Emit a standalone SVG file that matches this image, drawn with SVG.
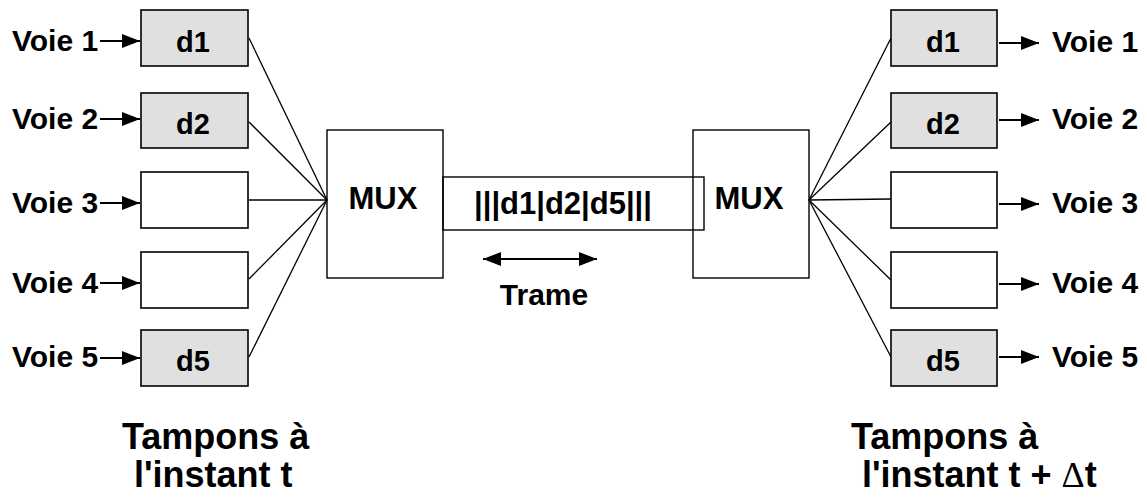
<svg xmlns="http://www.w3.org/2000/svg" width="1147" height="497" viewBox="0 0 1147 497">
<style>
text{font-family:"Liberation Sans",Arial,sans-serif;font-weight:bold;fill:#000}
.voie{font-size:30px}
.d{font-size:29px;text-anchor:middle}
.mux{font-size:31px;text-anchor:middle}
.buf{fill:#e0e0e0;stroke:#000;stroke-width:1.6}
.empty{fill:#fff;stroke:#000;stroke-width:1.6}
.box{fill:none;stroke:#000;stroke-width:1.4}
.ln{stroke:#000;stroke-width:1.3;fill:none}
.ar{stroke:#000;stroke-width:2.2;fill:none}
.big{font-size:36px}
</style>
<defs>
<marker id="ah" markerUnits="userSpaceOnUse" markerWidth="20" markerHeight="16" refX="18" refY="7" orient="auto">
<path d="M0,0 L18,7 L0,14 Z" fill="#000"/>
</marker>
<marker id="ahs" markerUnits="userSpaceOnUse" markerWidth="20" markerHeight="16" refX="0" refY="7" orient="auto">
<path d="M18,0 L0,7 L18,14 Z" fill="#000"/>
</marker>
</defs>
<rect width="1147" height="497" fill="#fff"/>

<g id="connectors">
<line class="ln" x1="249" y1="38" x2="327" y2="200"/>
<line class="ln" x1="249" y1="122" x2="327" y2="200"/>
<line class="ln" x1="249" y1="200" x2="327" y2="200"/>
<line class="ln" x1="249" y1="279" x2="327" y2="200"/>
<line class="ln" x1="249" y1="357" x2="327" y2="200"/>
<line class="ln" x1="809" y1="200" x2="891" y2="38"/>
<line class="ln" x1="809" y1="200" x2="891" y2="122"/>
<line class="ln" x1="809" y1="200" x2="891" y2="199"/>
<line class="ln" x1="809" y1="200" x2="891" y2="280"/>
<line class="ln" x1="809" y1="200" x2="891" y2="357"/>
<line class="ar" x1="100" y1="41" x2="140" y2="41" marker-end="url(#ah)"/>
<line class="ar" x1="100" y1="119" x2="140" y2="119" marker-end="url(#ah)"/>
<line class="ar" x1="100" y1="203" x2="140" y2="203" marker-end="url(#ah)"/>
<line class="ar" x1="100" y1="283" x2="140" y2="283" marker-end="url(#ah)"/>
<line class="ar" x1="100" y1="358" x2="140" y2="358" marker-end="url(#ah)"/>
<line class="ar" x1="999" y1="43" x2="1039" y2="43" marker-end="url(#ah)"/>
<line class="ar" x1="999" y1="120" x2="1039" y2="120" marker-end="url(#ah)"/>
<line class="ar" x1="999" y1="204" x2="1039" y2="204" marker-end="url(#ah)"/>
<line class="ar" x1="999" y1="284" x2="1039" y2="284" marker-end="url(#ah)"/>
<line class="ar" x1="999" y1="357" x2="1039" y2="357" marker-end="url(#ah)"/>
<line class="ar" x1="483" y1="259" x2="597" y2="259" marker-start="url(#ahs)" marker-end="url(#ah)"/>
</g>

<g id="in-labels">
<text class="voie" x="12" y="51">Voie 1</text>
<text class="voie" x="12" y="129">Voie 2</text>
<text class="voie" x="12" y="213">Voie 3</text>
<text class="voie" x="12" y="293">Voie 4</text>
<text class="voie" x="12" y="367">Voie 5</text>
</g>

<g id="in-buf1"><rect class="buf" x="141" y="10" width="107" height="56"/><text class="d" x="193" y="52">d1</text></g>
<g id="in-buf2"><rect class="buf" x="141" y="93" width="107" height="55"/><text class="d" x="193" y="134">d2</text></g>
<g id="in-buf3"><rect class="empty" x="141" y="172" width="107" height="56"/></g>
<g id="in-buf4"><rect class="empty" x="141" y="252" width="107" height="56"/></g>
<g id="in-buf5"><rect class="buf" x="141" y="330" width="107" height="56"/><text class="d" x="193" y="371">d5</text></g>

<g id="mux-left"><rect class="box" x="327" y="130" width="116" height="148"/><text class="mux" x="383" y="209">MUX</text></g>
<g id="mux-right"><rect class="box" x="693" y="130" width="116" height="148"/><text class="mux" x="749" y="209">MUX</text></g>

<g id="frame"><rect class="box" x="443" y="177" width="261" height="53"/><text x="563" y="214" style="font-size:31px;text-anchor:middle">|||d1|d2|d5|||</text></g>

<g id="trame-label"><text x="544" y="305" style="font-size:30px;text-anchor:middle">Trame</text></g>

<g id="out-buf1"><rect class="buf" x="891" y="10" width="106" height="56"/><text class="d" x="943" y="52">d1</text></g>
<g id="out-buf2"><rect class="buf" x="891" y="93" width="106" height="55"/><text class="d" x="943" y="134">d2</text></g>
<g id="out-buf3"><rect class="empty" x="891" y="172" width="106" height="56"/></g>
<g id="out-buf4"><rect class="empty" x="891" y="252" width="106" height="56"/></g>
<g id="out-buf5"><rect class="buf" x="891" y="330" width="106" height="56"/><text class="d" x="943" y="371">d5</text></g>

<g id="out-labels">
<text class="voie" x="1052" y="52">Voie 1</text>
<text class="voie" x="1052" y="129">Voie 2</text>
<text class="voie" x="1052" y="213">Voie 3</text>
<text class="voie" x="1052" y="293">Voie 4</text>
<text class="voie" x="1052" y="367">Voie 5</text>
</g>

<g id="caption-left">
<text class="big" x="122" y="449">Tampons à</text>
<text class="big" x="134" y="487">l'instant t</text>
</g>
<g id="caption-right">
<text class="big" x="851" y="449">Tampons à</text>
<text class="big" x="862" y="487">l'instant t + <tspan style="font-family:'Liberation Serif',serif;font-weight:normal">Δ</tspan>t</text>
</g>
</svg>
